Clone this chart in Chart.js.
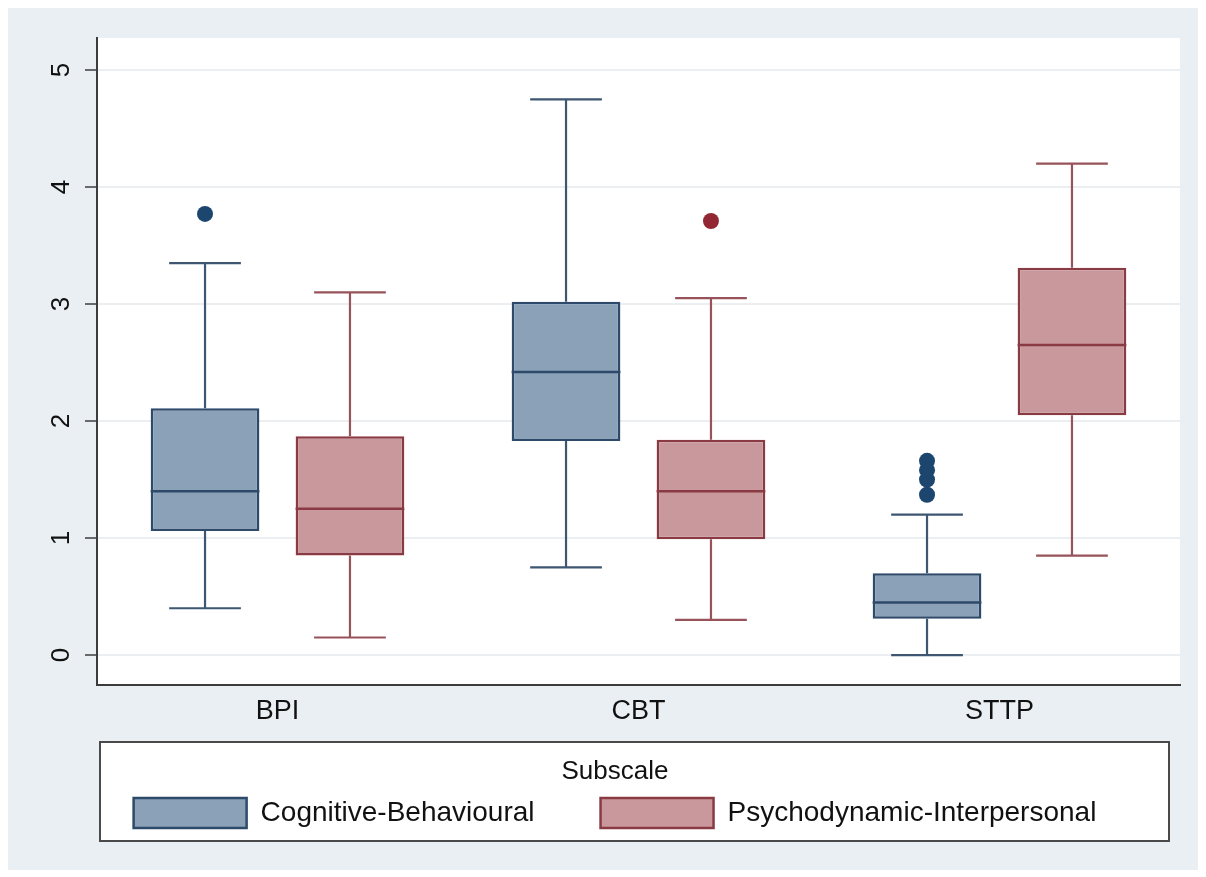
<!DOCTYPE html>
<html>
<head>
<meta charset="utf-8">
<script src="https://cdn.jsdelivr.net/npm/chart.js@4.4.0/dist/chart.umd.min.js"></script>
<style>
  html, body { margin: 0; padding: 0; background: #fff; }
  #wrap { width: 1206px; height: 877px; position: relative; }
</style>
</head>
<body>
<div id="wrap"><canvas id="myChart"></canvas></div>
<script>
var categories = ['BPI', 'CBT', 'STTP']
var yTicks = [0, 1, 2, 3, 4, 5]

// Cognitive-Behavioural subscale
var cbMin = [0.40, 0.75, 0.00]
var cbQ1 = [1.06, 1.83, 0.31]
var cbMed = [1.40, 2.42, 0.45]
var cbQ3 = [2.11, 3.02, 0.70]
var cbMax = [3.35, 4.75, 1.20]
var cbOut = [[3.77], [], [1.37, 1.50, 1.58, 1.66]]

// Psychodynamic-Interpersonal subscale
var piMin = [0.15, 0.30, 0.85]
var piQ1 = [0.85, 0.99, 2.05]
var piMed = [1.25, 1.40, 2.65]
var piQ3 = [1.87, 1.84, 3.31]
var piMax = [3.10, 3.05, 4.20]
var piOut = [[], [3.71], []]

var series = [
    { name: 'Cognitive-Behavioural', min: cbMin, q1: cbQ1, med: cbMed, q3: cbQ3, max: cbMax, out: cbOut,
      fill: 'rgb(138,161,184)', line: 'rgb(46,74,106)', whisker: 'rgb(62,86,113)', dot: 'rgb(28,70,110)' },
    { name: 'Psychodynamic-Interpersonal', min: piMin, q1: piQ1, med: piMed, q3: piQ3, max: piMax, out: piOut,
      fill: 'rgb(200,152,157)', line: 'rgb(138,58,66)', whisker: 'rgb(152,82,90)', dot: 'rgb(146,38,50)' }
]

var font = '"Liberation Sans", Arial, Helvetica, sans-serif'

// panel backgrounds and legend frame
var backdrop = {
    id: 'backdrop',
    beforeDraw(chart) {
        var ctx = chart.ctx, a = chart.chartArea, lg = chart.legend
        ctx.save()
        ctx.fillStyle = '#ffffff'
        ctx.fillRect(0, 0, chart.width, chart.height)
        ctx.fillStyle = 'rgb(233,239,242)'
        ctx.fillRect(8, 8, chart.width - 16, chart.height - 15)
        ctx.fillStyle = '#ffffff'
        ctx.fillRect(a.left, a.top, a.right - a.left, a.bottom - a.top)
        var lx = a.left + 3, rx = a.right - 11, ty = lg.top - 6, by = lg.bottom + 3
        ctx.fillRect(lx, ty, rx - lx, by - ty)
        ctx.strokeStyle = '#4a4a4a'
        ctx.lineWidth = 2
        ctx.strokeRect(lx, ty, rx - lx, by - ty)
        ctx.restore()
    }
}

// whiskers, medians and outside values on top of the floating bars
var boxPlugin = {
    id: 'boxes',
    afterDatasetsDraw(chart) {
        var ctx = chart.ctx, y = chart.scales.y
        ctx.save()
        series.forEach(function (s, d) {
            var meta = chart.getDatasetMeta(d)
            meta.data.forEach(function (bar, i) {
                var cx = bar.x, half = bar.width / 2, cap = bar.width * 0.33
                var pMin = y.getPixelForValue(s.min[i]), pMax = y.getPixelForValue(s.max[i])
                var pQ1 = y.getPixelForValue(s.q1[i]), pQ3 = y.getPixelForValue(s.q3[i])
                var pMed = y.getPixelForValue(s.med[i])
                ctx.strokeStyle = s.whisker
                ctx.lineWidth = 2.2
                ctx.beginPath()
                ctx.moveTo(cx, pQ3); ctx.lineTo(cx, pMax)
                ctx.moveTo(cx - cap, pMax); ctx.lineTo(cx + cap, pMax)
                ctx.moveTo(cx, pQ1); ctx.lineTo(cx, pMin)
                ctx.moveTo(cx - cap, pMin); ctx.lineTo(cx + cap, pMin)
                ctx.stroke()
                ctx.strokeStyle = s.line
                ctx.lineWidth = 2.5
                ctx.beginPath()
                ctx.moveTo(cx - half, pMed); ctx.lineTo(cx + half, pMed)
                ctx.stroke()
                ctx.fillStyle = s.dot
                s.out[i].forEach(function (v) {
                    ctx.beginPath()
                    ctx.arc(cx, y.getPixelForValue(v), 8, 0, Math.PI * 2)
                    ctx.fill()
                })
            })
        })
        ctx.restore()
    }
}

var data = {
    labels: categories,
    datasets: series.map(function (s) {
        return {
            label: s.name,
            data: s.q1.map(function (q, i) { return [q, s.q3[i]] }),
            backgroundColor: s.fill,
            borderColor: s.line,
            borderWidth: 2.5,
            borderSkipped: false,
            categoryPercentage: 0.803,
            barPercentage: 0.75
        }
    })
}

var config = {
    type: 'bar',
    data: data,
    plugins: [backdrop, boxPlugin],
    options: {
        responsive: true,
        maintainAspectRatio: false,
        animation: false,
        layout: { padding: { top: 38, right: 26, bottom: 39, left: 50 } },
        scales: {
            x: {
                grid: { display: false, drawTicks: false },
                border: { display: true, color: '#3c3c3c', width: 2 },
                ticks: { color: '#111', font: { family: font, size: 27 }, padding: 10 },
                afterFit: function (s) { s.height = 63 }
            },
            y: {
                min: -0.256,
                max: 5.274,
                afterBuildTicks: function (s) { s.ticks = yTicks.map(function (v) { return { value: v } }) },
                grid: { color: '#eceff1', lineWidth: 2, tickColor: '#3c3c3c', tickLength: 12, tickWidth: 1.5 },
                border: { display: true, color: '#3c3c3c', width: 2 },
                ticks: { color: '#111', font: { family: font, size: 26 }, minRotation: 90, maxRotation: 90,
                         crossAlign: 'center', padding: 16 },
                afterFit: function (s) { s.width = 47 }
            }
        },
        plugins: {
            tooltip: { enabled: false },
            legend: {
                position: 'bottom',
                fullSize: true,
                title: { display: true, text: 'Subscale', color: '#111',
                         font: { family: font, size: 26 }, padding: { top: 11, bottom: -58.2 } },
                labels: { boxWidth: 113, boxHeight: 30, padding: 66, color: '#111',
                          font: { family: font, size: 28 } }
            }
        }
    }
}

var myChart = new Chart(document.getElementById('myChart'), config)
</script>
</body>
</html>
